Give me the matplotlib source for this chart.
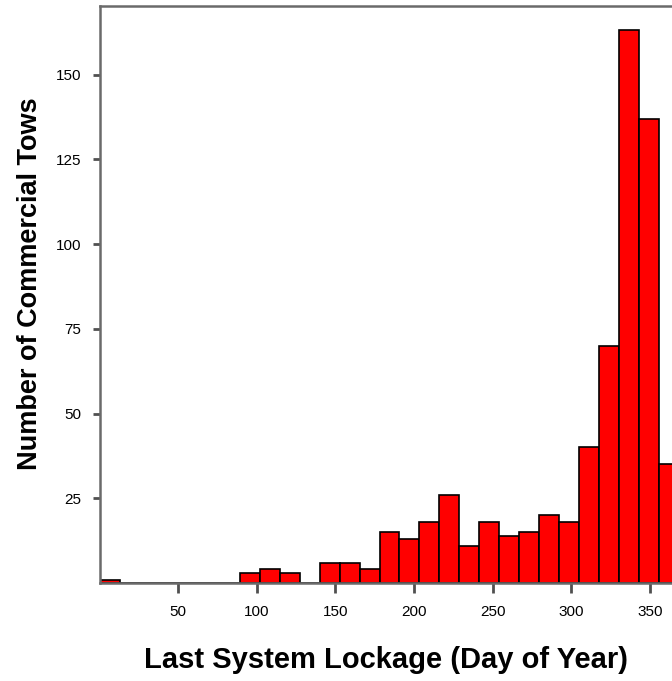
import numpy as np
import matplotlib.pyplot as plt

# histogram of last lockage day (counts)
bin_start = 0.5
bin_width = 12.68
counts = [1, 0, 0, 0, 0, 0, 0, 3, 4, 3, 0, 6, 6, 4, 15, 13, 18, 26, 11, 18,
          14, 15, 20, 18, 40, 70, 163, 137, 35]
y_ticks = [25, 50, 75, 100, 125, 150]
x_ticks = [50, 100, 150, 200, 250, 300, 350]

edges = bin_start + bin_width * np.arange(len(counts))

fig = plt.figure(figsize=(6.72, 6.81), dpi=100)
ax = fig.add_axes([99.5 / 672, 1 - 583 / 681, 1 - 99.5 / 672, (583 - 6) / 681])

ax.bar(edges, counts, width=bin_width, align='edge', color='#ff0000',
       edgecolor='black', linewidth=1.2)

ax.set_xlim(0, (672 - 99.5) / 1.573)
ax.set_ylim(0, (583 - 6) / 3.39)
ax.set_xticks(x_ticks)
ax.set_yticks(y_ticks)

for s in ['left', 'bottom', 'top']:
    ax.spines[s].set_color('#6a6a6a')
    ax.spines[s].set_linewidth(1.8)
ax.spines['right'].set_visible(False)
ax.tick_params(direction='out', width=2, color='#505050', labelsize=11)
ax.tick_params(axis='x', length=7.5, pad=8)
ax.tick_params(axis='y', length=5, pad=8)
for lab in ax.get_xticklabels() + ax.get_yticklabels():
    lab.set_family('Liberation Sans')

ax.set_xlabel('Last System Lockage (Day of Year)', fontsize=21,
              fontweight='bold', family='Liberation Sans', labelpad=20)
ax.set_ylabel('Number of Commercial Tows', fontsize=19.5,
              fontweight='bold', family='Liberation Sans', labelpad=9,
              y=0.518)

plt.savefig('out.png', dpi=100)
